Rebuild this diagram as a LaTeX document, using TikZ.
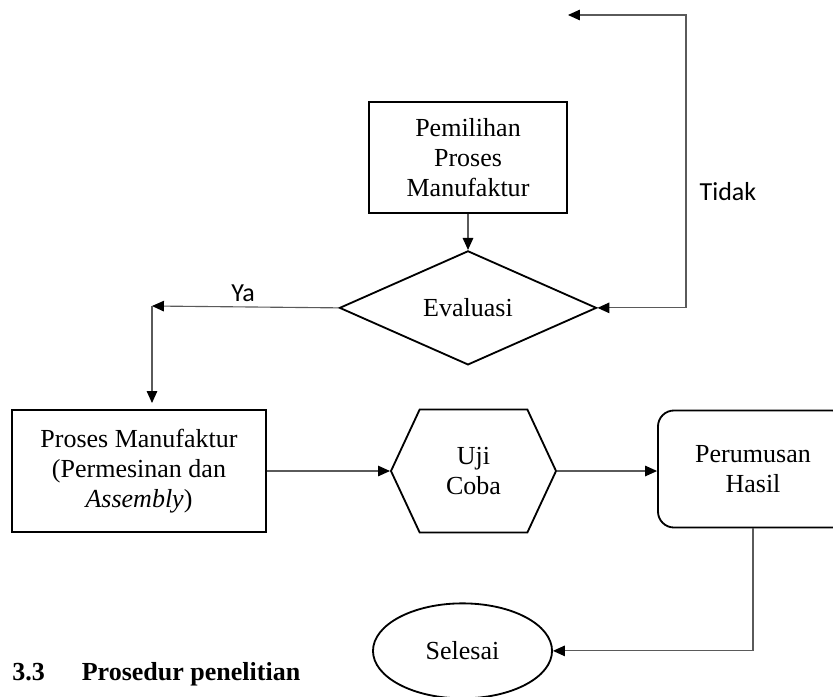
\documentclass[tikz,border=0pt]{standalone}
\usepackage{fontspec}
\setmainfont{Liberation Serif}
\newfontfamily\labelfont{Carlito}
\usepackage{xcolor}
\usetikzlibrary{arrows.meta,positioning,shapes.geometric,shapes.symbols}
\definecolor{LineGray}{HTML}{5A5A5A}
\tikzset{
  box/.style={draw, line width=1.3pt, align=center, inner sep=0pt,
              font=\fontsize{18.5}{21.3}\selectfont},
  process/.style={box, rectangle},
  check/.style={box, diamond, minimum width=64.25mm, minimum height=28.5mm},
  trial/.style={box, signal, signal to=west and east, signal pointer angle=130,
                minimum width=41.25mm, minimum height=30.75mm},
  result/.style={box, rectangle, rounded corners=4mm,
                 minimum width=47.5mm, minimum height=29.25mm},
  finish/.style={box, ellipse, minimum width=44.75mm, minimum height=23.75mm},
  answer/.style={font=\labelfont\fontsize{18.5}{21}\selectfont, inner sep=0pt},
  heading/.style={font=\fontsize{18.5}{21}\selectfont\bfseries, inner sep=0pt},
  flow/.style={-{Triangle[length=8.5pt, width=7.5pt, color=black]},
               draw=LineGray, line width=0.8pt},
  twoway/.style={flow, {Triangle[length=8.5pt, width=7.5pt, color=black]}-{Triangle[length=8.5pt, width=7.5pt, color=black]}}
}

\begin{document}
\begin{tikzpicture}[x=0.025cm, y=-0.025cm]
  \clip (0,0) rectangle (833,696);
  \node[process, minimum width=49.5mm, minimum height=27.75mm] (pilih) at (468,157.5)
    {Pemilihan\\Proses\\Manufaktur};
  \node[check, below=9mm of pilih] (evaluasi) {Evaluasi};
  \node[process, minimum width=63.5mm, minimum height=30.5mm] (proses) at (139,471)
    {Proses Manufaktur\\(Permesinan dan\\\textit{Assembly})};
  \node[trial, right=30.75mm of proses] (uji) {Uji\\Coba};
  \node[result, right=25mm of uji, yshift=0.5mm] (hasil) {Perumusan\\Hasil};
  \node[finish, below=17.25mm of uji, xshift=-2.75mm] (selesai) {Selesai};
  \node[answer, anchor=base] (ya) at (243,301) {Ya};
  \node[answer] (tidak) at (728,192) {Tidak};
  \node[heading, anchor=base west] (judul) at (12,680)
    {3.3\hspace{9.25mm}Prosedur penelitian};
  \coordinate (kembali) at (568,15);
  \coordinate (sudut) at (686,15);
  \coordinate (belok) at (152,306);
  \coordinate (turun) at (152,403);
  \draw[flow] (pilih) -- (evaluasi);
  \draw[flow] (evaluasi.west) -- (belok);
  \draw[flow] (belok) -- (turun);
  \draw[twoway] (kembali) -- (sudut) |- (evaluasi.east);
  \draw[flow] (proses.east) -- (uji.west);
  \draw[flow] (uji.east) -- (uji.east -| hasil.west);
  \draw[flow] (hasil.south) |- (selesai.east);
\end{tikzpicture}
\end{document}
